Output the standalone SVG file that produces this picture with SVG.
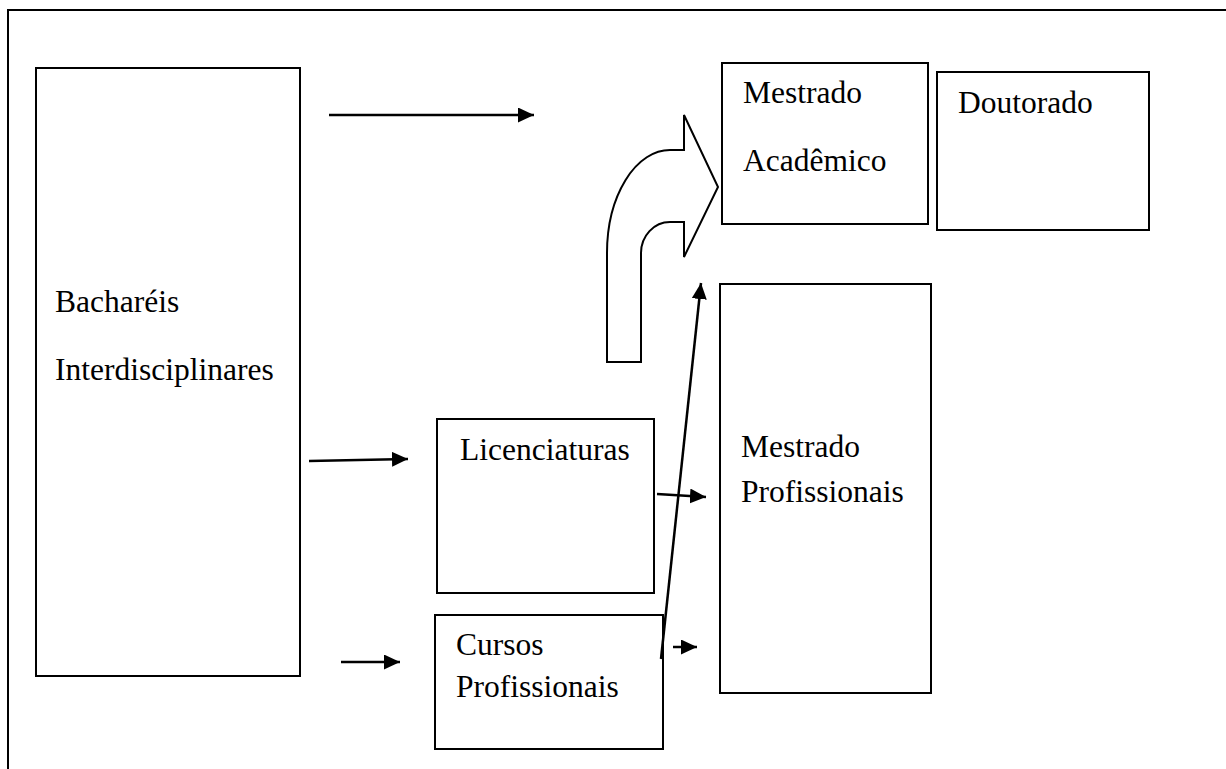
<svg xmlns="http://www.w3.org/2000/svg" width="1226" height="769" viewBox="0 0 1226 769">
<style>
.box{fill:#fff;stroke:#000;stroke-width:2}
.t{font-family:"Liberation Serif","Times New Roman",serif;font-size:31.5px;fill:#000}
.c{stroke:#000;stroke-width:2.5;fill:none}
</style>
<defs>
<marker id="ah" markerWidth="16" markerHeight="15" refX="16" refY="7.5" orient="auto" markerUnits="userSpaceOnUse">
<path d="M0,0 L16,7.5 L0,15 Z" fill="#000"/>
</marker>
</defs>
<rect width="1226" height="769" fill="#fff"/>
<path d="M8,769 L8,10 L1226,10" fill="none" stroke="#000" stroke-width="2"/>
<g id="bachareis">
<rect class="box" x="36" y="68" width="264" height="608"/>
<text class="t" x="55" y="312">Bacharéis</text>
<text class="t" x="55" y="380">Interdisciplinares</text>
</g>
<g id="mestrado-academico">
<rect class="box" x="722" y="63" width="206" height="161"/>
<text class="t" x="743" y="103">Mestrado</text>
<text class="t" x="743" y="171">Acadêmico</text>
</g>
<g id="doutorado">
<rect class="box" x="937" y="72" width="212" height="158"/>
<text class="t" x="958" y="113">Doutorado</text>
</g>
<g id="mestrado-profissionais">
<rect class="box" x="720" y="284" width="211" height="409"/>
<text class="t" x="741" y="457">Mestrado</text>
<text class="t" x="741" y="502">Profissionais</text>
</g>
<g id="licenciaturas">
<rect class="box" x="437" y="419" width="217" height="174"/>
<text class="t" x="460" y="460">Licenciaturas</text>
</g>
<g id="cursos-profissionais">
<rect class="box" x="435" y="615" width="228" height="134"/>
<text class="t" x="456" y="655">Cursos</text>
<text class="t" x="456" y="697">Profissionais</text>
</g>
<g id="connectors">
<line class="c" x1="329" y1="115" x2="534" y2="115" marker-end="url(#ah)"/>
<line class="c" x1="309" y1="461" x2="408" y2="459" marker-end="url(#ah)"/>
<line class="c" x1="341" y1="662" x2="400" y2="662" marker-end="url(#ah)"/>
<line class="c" x1="657" y1="494" x2="706" y2="497" marker-end="url(#ah)"/>
<line class="c" x1="673" y1="647" x2="697" y2="647" marker-end="url(#ah)"/>
<line class="c" x1="661" y1="659" x2="701" y2="283" marker-end="url(#ah)"/>
<path d="M607,362 L607,253 A63,103 0 0 1 670,150 L684,150 L684,115 L718,187 L684,257 L684,222 L670,222 A29,31 0 0 0 641,253 L641,362 Z" fill="#fff" stroke="#000" stroke-width="2"/>
</g>
</svg>
